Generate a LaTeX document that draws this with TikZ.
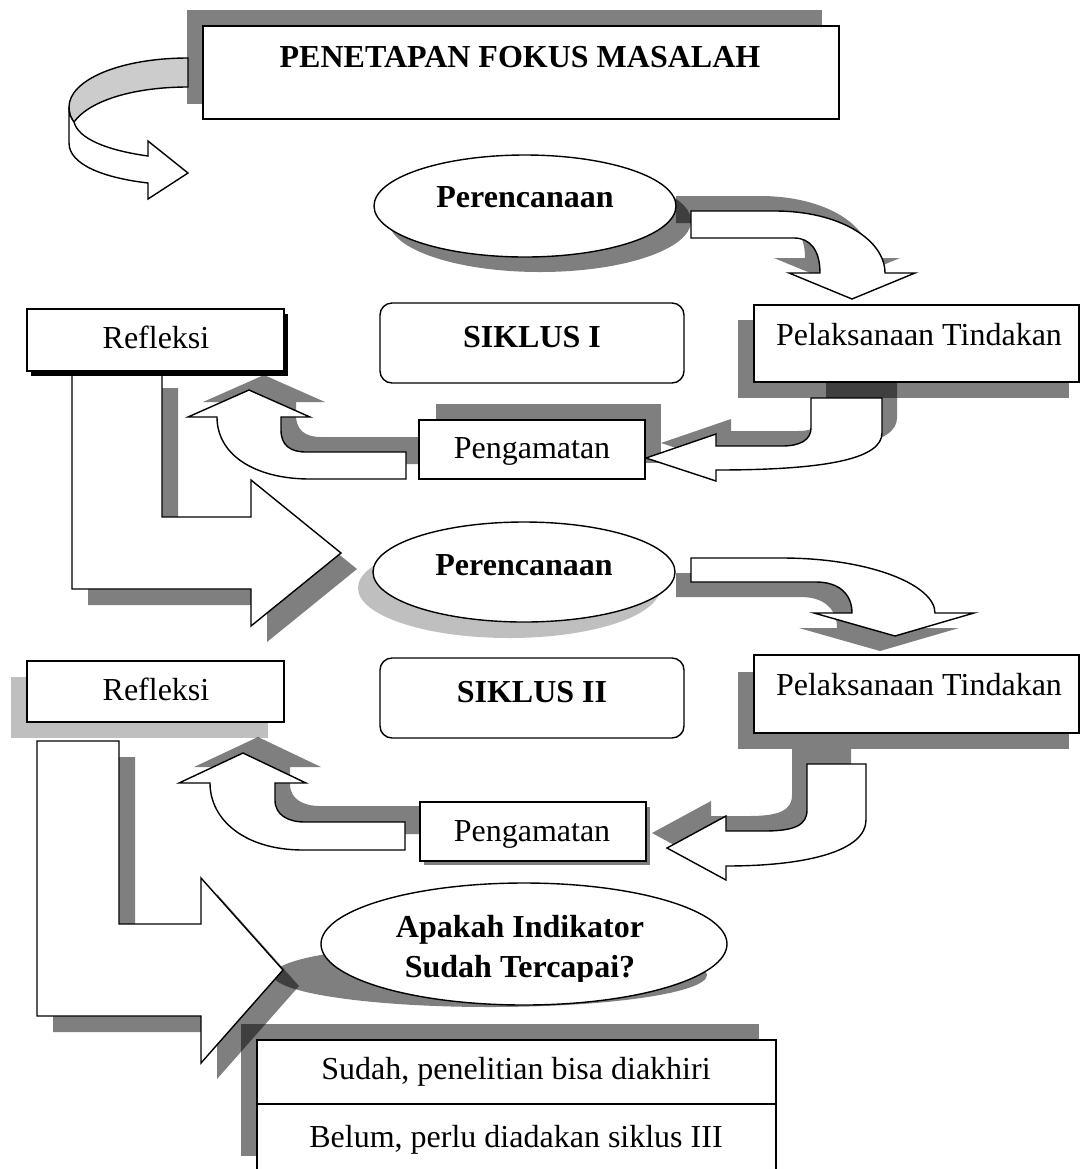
\documentclass[tikz,border=0pt]{standalone}
\usepackage{fontspec}
\setmainfont{Liberation Serif}
\usetikzlibrary{positioning}

% block arrow outlines (pixel grid, y grows downward)
\newcommand{\arrPutar}{(69,107) -- (69,143) .. controls (69,165) and (105,178) .. (148,183)
  -- (148,199) -- (188,173) -- (148,141) -- (148,156)
  .. controls (105,150) and (78,138) .. (74,122) .. controls (71,118) and (69,114) .. (69,107) -- cycle}
\newcommand{\arrRencanaA}{(691,211) -- (775,211) .. controls (840,211) and (885,240) .. (885,273)
  -- (915,273) -- (852,299) -- (789,273) -- (820,273)
  .. controls (820,250) and (810,238) .. (794,238) -- (691,238) -- cycle}
\newcommand{\arrLaksanaA}{(811,398) -- (882,398) -- (882,433) .. controls (882,458) and (830,470) .. (716,470)
  -- (716,481) -- (646,458) -- (716,434) -- (716,446) -- (782,446)
  .. controls (800,446) and (811,440) .. (811,428) -- cycle}
\newcommand{\arrAmatA}{(406,452) -- (406,479) -- (310,479) .. controls (255,479) and (217,455) .. (217,417)
  -- (188,417) -- (249,390) -- (310,417) -- (281,417) -- (281,430)
  .. controls (281,445) and (290,452) .. (306,452) -- cycle}
\newcommand{\arrRefleksiA}{(72,372) -- (72,589) -- (251,589) -- (251,626) -- (341,553)
  -- (251,480) -- (251,517) -- (162,517) -- (162,372) -- cycle}
\newcommand{\arrRencanaB}{(691,558) -- (782,558) .. controls (870,558) and (935,585) .. (935,613)
  -- (974,613) -- (895,636) -- (814,613) -- (852,613)
  .. controls (852,595) and (840,582) .. (816,582) -- (691,582) -- cycle}
\newcommand{\arrLaksanaB}{(807,764) -- (866,764) -- (866,820) .. controls (866,850) and (810,866) .. (726,866)
  -- (726,880) -- (667,848) -- (726,816) -- (726,831) -- (764,831)
  .. controls (795,831) and (807,825) .. (807,810) -- cycle}
\newcommand{\arrAmatB}{(405,822) -- (405,850) -- (303,850) .. controls (245,850) and (210,820) .. (210,783)
  -- (179,783) -- (243,753) -- (306,783) -- (275,783) -- (275,800)
  .. controls (275,815) and (288,822) .. (305,822) -- cycle}
\newcommand{\arrRefleksiB}{(37,741) -- (37,1016) -- (201,1016) -- (201,1063) -- (283,970)
  -- (201,878) -- (201,924) -- (119,924) -- (119,741) -- cycle}

\begin{document}
\begin{tikzpicture}[
  x=0.5pt, y=-0.5pt, line width=0.7pt,
  txt/.style={font=\fontsize{16}{20}\selectfont, inner sep=0pt, anchor=base},
  btxt/.style={txt, font=\fontsize{16}{20}\selectfont\bfseries},
  blk/.style={draw=black, fill=white},
  shd/.style={fill=black, fill opacity=0.5, draw=none},
  lightshd/.style={fill=black, fill opacity=0.25, draw=none}
]
  \clip (0,0) rectangle (1081,1169);
  \fill[white] (0,0) rectangle (1081,1169);

  % Shadows
  \fill[black!50] (187,10) rectangle (822,104);
  \fill[shd] (540,221) ellipse (151 and 51);
  \fill[shd, shift={(-15,-15)}] \arrRencanaA;
  \fill[shd] (738,320) rectangle (1069,398);
  \fill[shd, shift={(15,-15)}] \arrLaksanaA;
  \fill[shd] (436,404) rectangle (661,463);
  \fill[shd, shift={(15,-15)}] \arrAmatA;
  \fill[shd, shift={(16,16)}] \arrRefleksiA;
  \fill[lightshd] (509,588) ellipse (151 and 50);
  \fill[shd, shift={(-15,15)}] \arrRencanaB;
  \fill[lightshd] (11,677) rectangle (268,738);
  \fill[shd] (738,672) rectangle (1069,749);
  \fill[shd, shift={(-15,-15)}] \arrLaksanaB;
  \fill[shd] (424,807) rectangle (650,865);
  \fill[shd, shift={(15,-16)}] \arrAmatB;
  \fill[shd, shift={(16,16)}] \arrRefleksiB;
  \fill[shd] (490,975) ellipse (217 and 32);
  \fill[shd] (241,1024) rectangle (759,1156);

  % Top: problem focus and turning arrow
  \draw[blk] (203,26) rectangle (839,119);
  \node[btxt] (fokus) at (520,67) {PENETAPAN FOKUS MASALAH};
  \draw[blk, fill=black!20] (188,58) .. controls (120,58) and (69,80) .. (69,107)
       .. controls (69,114) and (71,118) .. (74,122)
       .. controls (90,100) and (135,87) .. (188,87) -- cycle;
  \draw[blk] \arrPutar;

  % Siklus I
  \draw[blk] (525,206) ellipse (151 and 51);
  \node[btxt] (rencana1) at (525,207) {Perencanaan};
  \draw[blk] \arrRencanaA;
  \draw[blk] (754,305) rectangle (1079,382);
  \node[txt] (laksana1) at (919,345) {Pelaksanaan Tindakan};
  \draw[blk] \arrLaksanaA;
  \draw[blk] (419,420) rectangle (645,479);
  \node[txt] (amat1) at (532,458) {Pengamatan};
  \draw[blk] \arrAmatA;
  \draw[blk] \arrRefleksiA;
  \fill[black] (31,314) rectangle (288,376);
  \draw[blk] (27,309) rectangle (284,371);
  \node[txt] (refleksi1) at (156,348) {Refleksi};
  \draw[blk, rounded corners=6pt] (380,303) rectangle (684,383);
  \node[btxt] (siklus1) at (532,347) {SIKLUS I};

  % Siklus II
  \draw[blk] (524,572) ellipse (151 and 50);
  \node[btxt] (rencana2) at (524,575) {Perencanaan};
  \draw[blk] \arrRencanaB;
  \draw[blk] (754,655) rectangle (1079,733);
  \node[txt] (laksana2) at (919,695) {Pelaksanaan Tindakan};
  \draw[blk] \arrLaksanaB;
  \draw[blk] (420,802) rectangle (646,861);
  \node[txt] (amat2) at (532,841) {Pengamatan};
  \draw[blk] \arrAmatB;
  \draw[blk] (27,661) rectangle (284,722);
  \node[txt] (refleksi2) at (156,700) {Refleksi};
  \draw[blk, rounded corners=6pt] (380,658) rectangle (684,738);
  \node[btxt] (siklus2) at (532,702) {SIKLUS II};
  \draw[blk] \arrRefleksiB;

  % Decision
  \draw[blk] (524,944) ellipse (203 and 61);
  \begin{scope}
    \clip (322,883) rectangle (727,981);
    \node[btxt] (indikator) at (520,937) {Apakah Indikator};
    \node[btxt] (tercapai) at (520,977) {Sudah Tercapai?};
  \end{scope}
  \draw[blk] (257,1040) rectangle (776,1104);
  \draw[blk] (257,1104) rectangle (776,1180);
  \node[txt] (sudah) at (516,1079) {Sudah, penelitian bisa diakhiri};
  \node[txt] (belum) at (516,1147) {Belum, perlu diadakan siklus III};
\end{tikzpicture}
\end{document}
